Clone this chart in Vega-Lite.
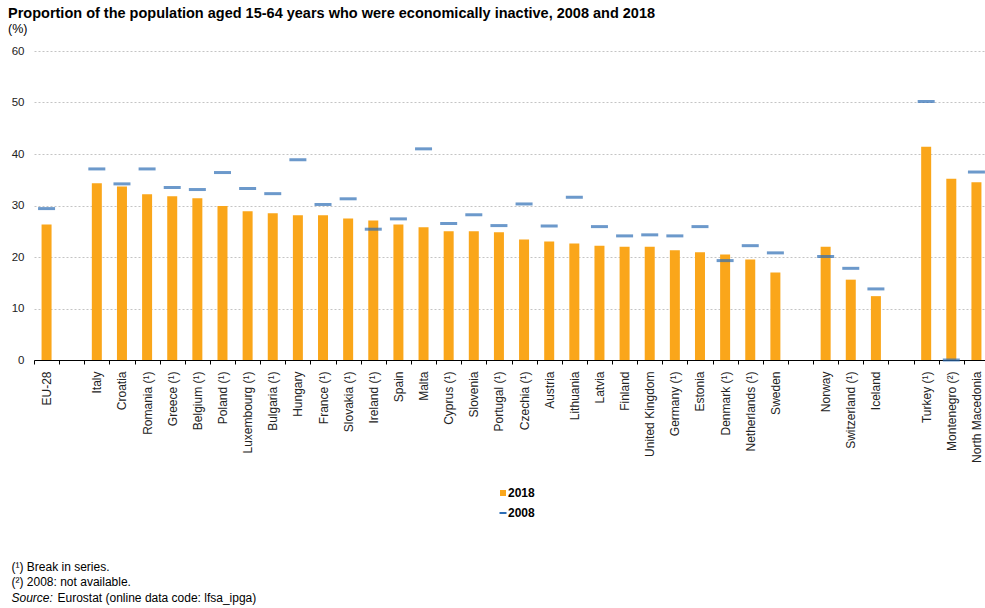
{
  "$schema": "https://vega.github.io/schema/vega-lite/v6.json",
  "width": 955,
  "height": 309,
  "autosize": {"type": "none"},
  "padding": {"left": 34, "top": 51, "right": -4, "bottom": 248},
  "background": "white",
  "config": {
    "font": "Liberation Sans",
    "view": {"stroke": null},
    "axis": {"labelFont": "Liberation Sans", "titleFont": "Liberation Sans"}
  },
  "title": {
    "text": "Proportion of the population aged 15-64 years who were economically inactive, 2008 and 2018",
    "subtitle": "(%)",
    "anchor": "start",
    "frame": "group",
    "dx": -26,
    "fontSize": 14.5,
    "fontWeight": "bold",
    "color": "#000000",
    "subtitleFontSize": 12.5,
    "subtitleColor": "#000000",
    "subtitlePadding": 1,
    "offset": 9
  },
  "data": {
    "values": [
      {"country": "EU-28", "y2018": 26.3, "y2008": 29.4},
      {"country": "Italy", "y2018": 34.3, "y2008": 37.1},
      {"country": "Croatia", "y2018": 33.7, "y2008": 34.2},
      {"country": "Romania (¹)", "y2018": 32.2, "y2008": 37.1},
      {"country": "Greece (¹)", "y2018": 31.8, "y2008": 33.5},
      {"country": "Belgium (¹)", "y2018": 31.4, "y2008": 33.1},
      {"country": "Poland (¹)", "y2018": 29.9, "y2008": 36.4},
      {"country": "Luxembourg (¹)", "y2018": 28.9, "y2008": 33.3},
      {"country": "Bulgaria (¹)", "y2018": 28.5, "y2008": 32.3},
      {"country": "Hungary", "y2018": 28.1, "y2008": 38.9},
      {"country": "France (¹)", "y2018": 28.1, "y2008": 30.2},
      {"country": "Slovakia (¹)", "y2018": 27.5, "y2008": 31.3},
      {"country": "Ireland (¹)", "y2018": 27.1, "y2008": 25.4},
      {"country": "Spain", "y2018": 26.3, "y2008": 27.4},
      {"country": "Malta", "y2018": 25.8, "y2008": 41.0},
      {"country": "Cyprus (¹)", "y2018": 25.0, "y2008": 26.5},
      {"country": "Slovenia", "y2018": 25.0, "y2008": 28.2},
      {"country": "Portugal (¹)", "y2018": 24.8, "y2008": 26.1},
      {"country": "Czechia (¹)", "y2018": 23.4, "y2008": 30.3},
      {"country": "Austria", "y2018": 23.0, "y2008": 26.0},
      {"country": "Lithuania", "y2018": 22.6, "y2008": 31.6},
      {"country": "Latvia", "y2018": 22.2, "y2008": 25.9},
      {"country": "Finland", "y2018": 22.0, "y2008": 24.1},
      {"country": "United Kingdom", "y2018": 22.0, "y2008": 24.3},
      {"country": "Germany (¹)", "y2018": 21.3, "y2008": 24.1},
      {"country": "Estonia", "y2018": 20.9, "y2008": 25.9},
      {"country": "Denmark (¹)", "y2018": 20.5, "y2008": 19.3},
      {"country": "Netherlands (¹)", "y2018": 19.5, "y2008": 22.2},
      {"country": "Sweden", "y2018": 17.0, "y2008": 20.8},
      {"country": "Norway", "y2018": 22.0, "y2008": 20.1},
      {"country": "Switzerland (¹)", "y2018": 15.6, "y2008": 17.8},
      {"country": "Iceland", "y2018": 12.4, "y2008": 13.8},
      {"country": "Turkey (¹)", "y2018": 41.4, "y2008": 50.2},
      {"country": "Montenegro (²)", "y2018": 35.2, "y2008": 0},
      {"country": "North Macedonia", "y2018": 34.5, "y2008": 36.5}
    ]
  },
  "layer": [
    {
      "mark": {"type": "bar", "size": 10, "color": "#FAA61A"},
      "encoding": {
        "x": {
          "field": "country",
          "type": "nominal",
          "sort": null,
          "scale": {
            "domain": ["EU-28", " ", "Italy", "Croatia", "Romania (¹)", "Greece (¹)", "Belgium (¹)", "Poland (¹)", "Luxembourg (¹)", "Bulgaria (¹)", "Hungary", "France (¹)", "Slovakia (¹)", "Ireland (¹)", "Spain", "Malta", "Cyprus (¹)", "Slovenia", "Portugal (¹)", "Czechia (¹)", "Austria", "Lithuania", "Latvia", "Finland", "United Kingdom", "Germany (¹)", "Estonia", "Denmark (¹)", "Netherlands (¹)", "Sweden", "  ", "Norway", "Switzerland (¹)", "Iceland", "   ", "Turkey (¹)", "Montenegro (²)", "North Macedonia"],
            "paddingInner": 0,
            "paddingOuter": 0
          },
          "axis": {
            "orient": "bottom",
            "tickBand": "extent",
            "labelAngle": -90,
            "labelFontSize": 12,
            "labelColor": "#222222",
            "labelPadding": 7,
            "labelLimit": 200,
            "tickSize": 4,
            "tickColor": "#000000",
            "domainColor": "#000000",
            "grid": false,
            "title": ["(¹) Break in series.", "(²) 2008: not available."],
            "titleFontSize": 12,
            "titleFontWeight": "normal",
            "titleColor": "#000000",
            "titleAngle": 0,
            "titleAlign": "left",
            "titleAnchor": null,
            "titleBaseline": "alphabetic",
            "titleLineHeight": 15.5,
            "titleX": -23,
            "titleY": 210
          }
        },
        "y": {
          "field": "y2018",
          "type": "quantitative",
          "scale": {"domain": [0, 60], "nice": false},
          "axis": {
            "values": [0, 10, 20, 30, 40, 50, 60],
            "labelFontSize": 11.5,
            "labelColor": "#222222",
            "labelPadding": 10,
            "ticks": false,
            "tickSize": 0,
            "domain": false,
            "grid": true,
            "gridColor": "#c4c4c4",
            "gridDash": [2, 2],
            "gridWidth": 1,
            "title": "Source:",
            "titleFontSize": 12,
            "titleFontWeight": "normal",
            "titleFontStyle": "italic",
            "titleColor": "#000000",
            "titleAngle": 0,
            "titleAlign": "left",
            "titleAnchor": null,
            "titleBaseline": "alphabetic",
            "titleX": -23,
            "titleY": 550
          }
        },
        "color": {
          "datum": "2018",
          "scale": {"domain": ["2018", "2008"], "range": ["#FAA61A", "#2D6DB5"]},
          "legend": {
            "orient": "none",
            "legendX": 463,
            "legendY": 436,
            "direction": "vertical",
            "title": null,
            "padding": 0,
            "rowPadding": 8,
            "labelFontSize": 12,
            "labelFontWeight": "bold",
            "labelColor": "#000000",
            "labelOffset": -1,
            "symbolOffset": 0,
            "encode": {
              "symbols": {
                "update": {
                  "shape": {"signal": "datum.value === '2018' ? 'square' : 'stroke'"},
                  "fill": {"signal": "scale('color', datum.value)"},
                  "stroke": {"signal": "scale('color', datum.value)"},
                  "strokeWidth": {"signal": "datum.value === '2018' ? 0 : 2"},
                  "size": {"signal": "datum.value === '2018' ? 36 : 49"}
                }
              }
            }
          }
        }
      }
    },
    {
      "mark": {"type": "tick", "thickness": 3, "size": 17, "color": "#2D6DB5", "orient": "horizontal"},
      "encoding": {
        "x": {
          "field": "country",
          "type": "nominal",
          "sort": null,
          "axis": {
            "orient": "bottom",
            "labels": false,
            "ticks": false,
            "domain": false,
            "grid": false,
            "title": "Eurostat (online data code: lfsa_ipga)",
            "titleFontSize": 12,
            "titleFontWeight": "normal",
            "titleColor": "#000000",
            "titleAngle": 0,
            "titleAlign": "left",
            "titleAnchor": null,
            "titleBaseline": "alphabetic",
            "titleX": 23,
            "titleY": 241
          }
        },
        "y": {"field": "y2008", "type": "quantitative"},
        "color": {"datum": "2008"}
      }
    }
  ],
  "resolve": {"axis": {"x": "independent"}}
}
